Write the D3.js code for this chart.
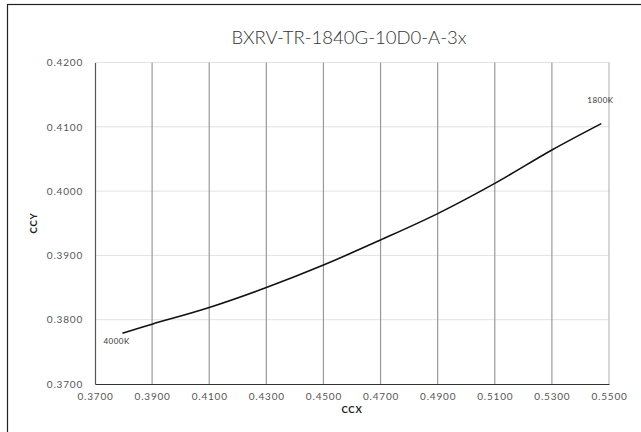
<!DOCTYPE html>
<html><head><meta charset="utf-8">
<script src="https://cdn.jsdelivr.net/npm/d3@7"></script>
<style>
html,body{margin:0;padding:0;background:#fff;}
svg{display:block;font-family:Lato,"Open Sans",sans-serif;}
</style></head>
<body>
<svg id="c" width="641" height="432"></svg>
<script>
const title = "BXRV-TR-1840G-10D0-A-3x";
const ccx = [0.3796, 0.3900, 0.4100, 0.4300, 0.4500, 0.4700, 0.4900, 0.5100, 0.5300, 0.5473];
const ccy = [0.3779, 0.3793, 0.3819, 0.3850, 0.3885, 0.3924, 0.3965, 0.4012, 0.4064, 0.4105];
const xTicks = [0.37, 0.39, 0.41, 0.43, 0.45, 0.47, 0.49, 0.51, 0.53, 0.55];
const yTicks = [0.37, 0.38, 0.39, 0.40, 0.41, 0.42];
const startLabel = "4000K";
const endLabel = "1800K";

const svg = d3.select("#c");
const x = d3.scaleLinear().domain([0.37, 0.55]).range([95, 609]);
const y = d3.scaleLinear().domain([0.37, 0.42]).range([384, 62.5]);

// outer frame
svg.append("rect").attr("x", 7.5).attr("y", 4.5).attr("width", 700).attr("height", 500)
  .attr("fill", "none").attr("stroke", "#222").attr("stroke-width", 1.2);

// horizontal gridlines
svg.append("g").selectAll("line").data(yTicks.slice(1)).join("line")
  .attr("x1", x(0.37)).attr("x2", x(0.55))
  .attr("y1", d => y(d)).attr("y2", d => y(d))
  .attr("stroke", "#e2e2e2").attr("stroke-width", 1);

// vertical gridlines
svg.append("g").selectAll("line").data(xTicks.slice(1)).join("line")
  .attr("x1", d => x(d)).attr("x2", d => x(d))
  .attr("y1", y(0.42)).attr("y2", y(0.37))
  .attr("stroke", (d, i) => i === xTicks.length - 2 ? "#bbb" : "#999").attr("stroke-width", 1.2);

// axes
const xAxis = d3.axisBottom(x).tickValues(xTicks).tickFormat(d3.format(".4f")).tickSize(0).tickPadding(9);
const gx = svg.append("g").attr("transform", `translate(0,${y(0.37)})`).call(xAxis);
gx.select(".domain").attr("stroke", "#333").attr("stroke-width", 1.2);
gx.selectAll("text").attr("font-size", 10).attr("fill", "#555").attr("font-family", "Lato, sans-serif")
  .attr("letter-spacing", 0.8);

const yAxis = d3.axisLeft(y).tickValues(yTicks).tickFormat(d3.format(".4f")).tickSize(0).tickPadding(12);
const gy = svg.append("g").attr("transform", `translate(${x(0.37)},0)`).call(yAxis);
gy.select(".domain").attr("stroke", "#555").attr("stroke-width", 1.2);
gy.selectAll("text").attr("font-size", 10).attr("fill", "#555").attr("font-family", "Lato, sans-serif")
  .attr("letter-spacing", 0.8);

// curve
const pts = ccx.map((v, i) => [v, ccy[i]]);
const line = d3.line().x(d => x(d[0])).y(d => y(d[1])).curve(d3.curveCatmullRom.alpha(0.5));
svg.append("path").datum(pts).attr("d", line)
  .attr("fill", "none").attr("stroke", "#111").attr("stroke-width", 1.6);

// point labels
svg.append("text").attr("x", x(ccx[0]) - 19).attr("y", y(ccy[0]) + 11)
  .attr("font-size", 8).attr("letter-spacing", 0.5).attr("fill", "#333").text(startLabel);
svg.append("text").attr("x", x(ccx[ccx.length - 1]) - 14).attr("y", y(ccy[ccy.length - 1]) - 21)
  .attr("font-size", 8).attr("letter-spacing", 0.5).attr("fill", "#333").text(endLabel);

// title
svg.append("text").attr("x", 349).attr("y", 44).attr("text-anchor", "middle")
  .attr("font-size", 18.5).attr("font-weight", 300).attr("fill", "#333").text(title);

// axis titles
svg.append("text").attr("x", 352).attr("y", 413).attr("text-anchor", "middle")
  .attr("font-size", 9.5).attr("font-weight", 700).attr("letter-spacing", 0.8).attr("fill", "#222").text("CCX");
svg.append("text").attr("transform", "translate(37,223) rotate(-90)").attr("text-anchor", "middle")
  .attr("font-size", 9.5).attr("font-weight", 700).attr("letter-spacing", 0.8).attr("fill", "#222").text("CCY");
</script>
</body></html>
